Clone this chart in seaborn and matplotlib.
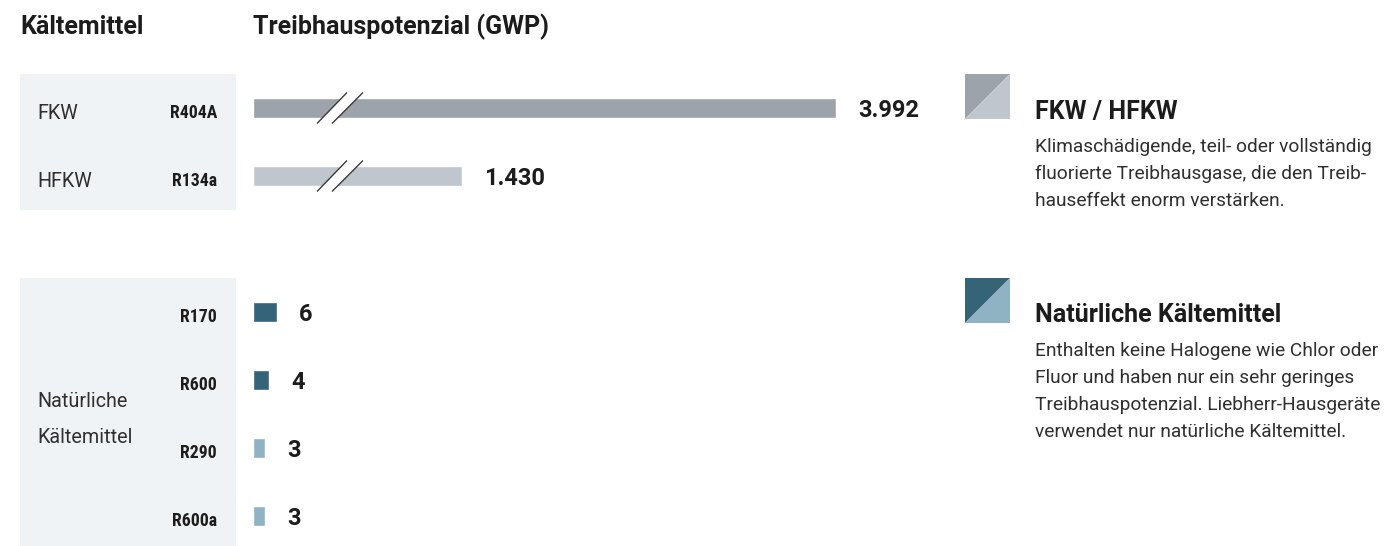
import matplotlib
matplotlib.use("Agg")
import matplotlib.pyplot as plt
import seaborn as sns
from matplotlib.patches import Rectangle, Polygon

# ---- data -------------------------------------------------------------
high_refrigerants = ["R404A", "R134a"]
high_classes = ["FKW", "HFKW"]
high_gwp = [3992, 1430]
high_colors = ["#9ca3ab", "#c0c6cd"]

natural_refrigerants = ["R170", "R600", "R290", "R600a"]
natural_gwp = [6, 4, 3, 3]
natural_colors = ["#356478", "#356478", "#8fb3c3", "#8fb3c3"]
natural_group = ["Natürliche", "Kältemittel"]

header_left = "Kältemittel"
header_right = "Treibhauspotenzial (GWP)"

legend_titles = ["FKW / HFKW", "Natürliche Kältemittel"]
legend_texts = [
    ["Klimaschädigende, teil- oder vollständig",
     "fluorierte Treibhausgase, die den Treib-",
     "hauseffekt enorm verstärken."],
    ["Enthalten keine Halogene wie Chlor oder",
     "Fluor und haben nur ein sehr geringes",
     "Treibhauspotenzial. Liebherr-Hausgeräte",
     "verwendet nur natürliche Kältemittel."],
]
legend_colors = [high_colors, [natural_colors[0], natural_colors[2]]]

# ---- style ------------------------------------------------------------
sns.set_theme(style="white")
plt.rcParams["font.family"] = ["Roboto", "DejaVu Sans"]
TEXT = "#1c1c1c"
BODY = "#2f2f2f"
PANEL = "#f0f3f6"
COND = ["Roboto Condensed", "Liberation Sans Narrow", "Roboto", "DejaVu Sans"]

W, H = 1385, 546
fig = plt.figure(figsize=(W / 100, H / 100), dpi=100)
fig.patch.set_facecolor("white")

# background layer in pixel coordinates
bg = fig.add_axes([0, 0, 1, 1], zorder=0)
bg.set_xlim(0, W)
bg.set_ylim(H, 0)
bg.axis("off")

ROW = 68          # px between bar rows
BAR_LEFT = 253
BAR_SPAN = 583    # px width of the plotting strip
LABEL_X = 217


def px_axes(left, top, width, height, z=2):
    return fig.add_axes([left / W, 1 - (top + height) / H, width / W, height / H],
                        zorder=z)


# grey panels behind the row labels
bg.add_patch(Rectangle((20, 74), 216, 136, facecolor=PANEL, edgecolor="none"))
bg.add_patch(Rectangle((20, 278), 216, 268, facecolor=PANEL, edgecolor="none"))

# headers
bg.text(20, 27, header_left, fontsize=18, fontweight="bold", color=TEXT,
        ha="left", va="center")
bg.text(BAR_LEFT, 27, header_right, fontsize=18, fontweight="bold", color=TEXT,
        ha="left", va="center")


def fmt(v):
    return f"{v:,}".replace(",", ".")


def draw_group(ax, names, values, colors, xmax):
    sns.barplot(x=values, y=names, hue=names, orient="h",
                palette=dict(zip(names, colors)), saturation=1,
                width=0.28, legend=False, ax=ax)
    ax.set_xlim(0, xmax)
    ax.set_facecolor("none")
    ax.axis("off")
    for i, v in enumerate(values):
        ax.annotate(fmt(v), xy=(v, i), xytext=(15.8, 0), textcoords="offset points",
                    ha="left", va="center_baseline", fontsize=17, fontweight="bold",
                    color=TEXT)
    # refrigerant codes, right aligned inside the panel
    trans = matplotlib.transforms.blended_transform_factory(fig.transFigure, ax.transData)
    for i, n in enumerate(names):
        ax.text(LABEL_X / W, i + 0.05, n, transform=trans, ha="right",
                va="center_baseline", fontsize=12.8, fontweight="bold",
                family=COND, color=TEXT, clip_on=False)
    return trans


# high-GWP group (scale broken: 3992 fills the strip)
ax_top = px_axes(BAR_LEFT, 74, BAR_SPAN, 2 * ROW)
trans_top = draw_group(ax_top, high_refrigerants, high_gwp, high_colors, max(high_gwp))
ax_top.set_ylim(len(high_gwp) - 0.5, -0.5)
for i, c in enumerate(high_classes):
    ax_top.text(37 / W, i + 0.05, c, transform=trans_top, ha="left",
                va="center_baseline", fontsize=14.2, color=BODY, clip_on=False)

# scale-break marks across the long bars
ext = 15.5 / ROW
yt = ax_top.get_yaxis_transform()
for i in range(len(high_gwp)):
    a0, a1, b0, b1 = 64 / BAR_SPAN, 94 / BAR_SPAN, 79 / BAR_SPAN, 110 / BAR_SPAN
    ax_top.add_patch(Polygon([(a0, i + ext), (a1, i - ext), (b1, i - ext), (b0, i + ext)],
                             closed=True, facecolor="white", edgecolor="none",
                             transform=yt, zorder=5, clip_on=False))
    for s0, s1 in ((a0, a1), (b0, b1)):
        ax_top.plot([s0, s1], [i + ext, i - ext], color="#3a3a3a", lw=1.0,
                    transform=yt, zorder=6, clip_on=False, solid_capstyle="butt")

# natural refrigerants (4 px per GWP unit)
nat_height = H - 278
ax_bot = px_axes(BAR_LEFT, 278, BAR_SPAN, nat_height)
trans_bot = draw_group(ax_bot, natural_refrigerants, natural_gwp, natural_colors,
                       BAR_SPAN / 4)
ax_bot.set_ylim(-0.5 + nat_height / ROW, -0.5)
for k, line in enumerate(natural_group):
    ax_bot.text(37 / W, 1.5 - 0.21 + k * 0.52, line, transform=trans_bot, ha="left",
                va="center_baseline", fontsize=14.2, color=BODY, clip_on=False)

# legend blocks on the right
for k, top in enumerate((74, 278)):
    dark, light = legend_colors[k]
    x0, y0, s = 965, top, 45
    bg.add_patch(Polygon([(x0, y0), (x0 + s, y0), (x0, y0 + s)], closed=True,
                         facecolor=dark, edgecolor="none"))
    bg.add_patch(Polygon([(x0 + s, y0), (x0 + s, y0 + s), (x0, y0 + s)], closed=True,
                         facecolor=light, edgecolor="none"))
    bg.text(1035, top + 35, legend_titles[k], fontsize=18, fontweight="bold",
            color=TEXT, ha="left", va="center_baseline")
    for j, line in enumerate(legend_texts[k]):
        bg.text(1035, top + 71 + j * 27, line, fontsize=13.8, color=BODY,
                ha="left", va="center_baseline")

fig.savefig("out.png", dpi=100, facecolor="white")
